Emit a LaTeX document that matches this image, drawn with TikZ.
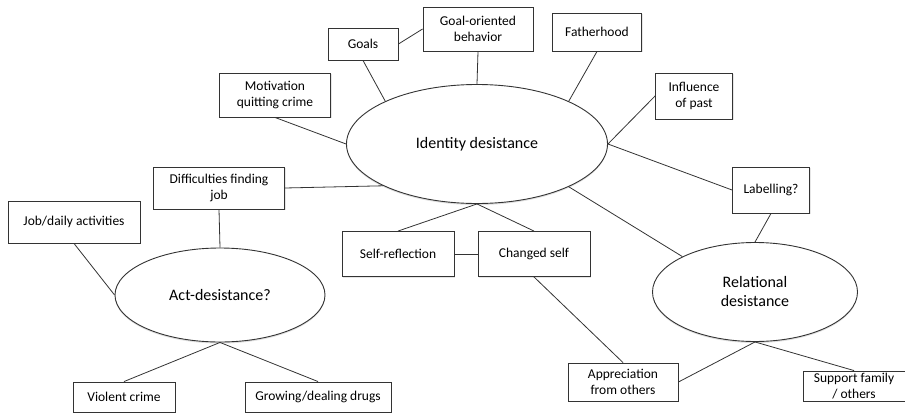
\documentclass[tikz,border=0pt]{standalone}
\usepackage{fontspec}
\setmainfont{Carlito}
\usetikzlibrary{shapes.geometric,shadows,positioning}

\begin{document}
\begin{tikzpicture}[x=1pt,y=-1pt,
    box/.style={draw=black!80,fill=white,line width=0.9pt,rectangle,align=center,inner sep=1pt,
        font=\fontsize{13.5}{15.5}\selectfont,drop shadow={shadow xshift=1pt,shadow yshift=-1.2pt,opacity=0.2}},
    blob/.style={draw=black!80,fill=white,line width=0.9pt,ellipse,align=center,inner sep=0pt,
        font=\fontsize{16}{19}\selectfont,drop shadow={shadow xshift=0pt,shadow yshift=-1.5pt,opacity=0.25}},
    link/.style={draw=black!80,line width=0.8pt}]
        \useasboundingbox (0,0) rectangle (905,415);
        % the three kinds of desistance
        \node[blob,minimum width=261pt,minimum height=119pt] (id) at (477,144) {Identity desistance};
        \node[blob,minimum width=210pt,minimum height=94pt] (act) at (220,295) {Act-desistance?};
        \node[blob,minimum width=205pt,minimum height=99pt] (rel) at (755,292) {Relational\\desistance};
        % themes
        \foreach \nm/\px/\py/\w/\h/\txt in {
            goals/363/44/70/32/Goals,
            gob/478/29/110/44/{Goal-oriented\\behavior},
            father/597/32/89/38/Fatherhood,
            motiv/275/95/111/44/{Motivation\\quitting crime},
            past/694/96/77/46/{Influence\\of past},
            labelling/771/190/77/46/Labelling?,
            diff/219/188/131/42/{Difficulties finding\\job},
            job/74/222/132/42/{Job/daily activities},
            self/398/254/112/45/Self-reflection,
            changed/534/254/112/45/Changed self,
            violent/124/397/102/30/Violent crime,
            drugs/318/397/146/30/{Growing/dealing drugs},
            apprec/623/382/110/38/{Appreciation\\from others},
            support/854/386/102/30/{Support family\\/ others}} {
            \node[box,minimum width=\w pt,minimum height=\h pt] (\nm) at (\px,\py) {\txt};
        }
        \foreach \a/\b in {goals.east/gob.west, goals.south/id.155, gob.south/id.north,
            father.south/id.25, motiv.south/id.west, past.west/id.east, id.east/labelling.west,
            id.335/rel.154, labelling.south/rel.north, diff.east/id.204, self.north/id.south,
            changed.north/id.south, self.east/changed.west, changed.south/apprec.north,
            apprec.east/rel.south, rel.south/support.north, diff.south/act.north,
            job.south/act.west, act.south/violent.north, act.south/drugs.north} {
            \draw[link] (\a) -- (\b);
        }
\end{tikzpicture}
\end{document}
